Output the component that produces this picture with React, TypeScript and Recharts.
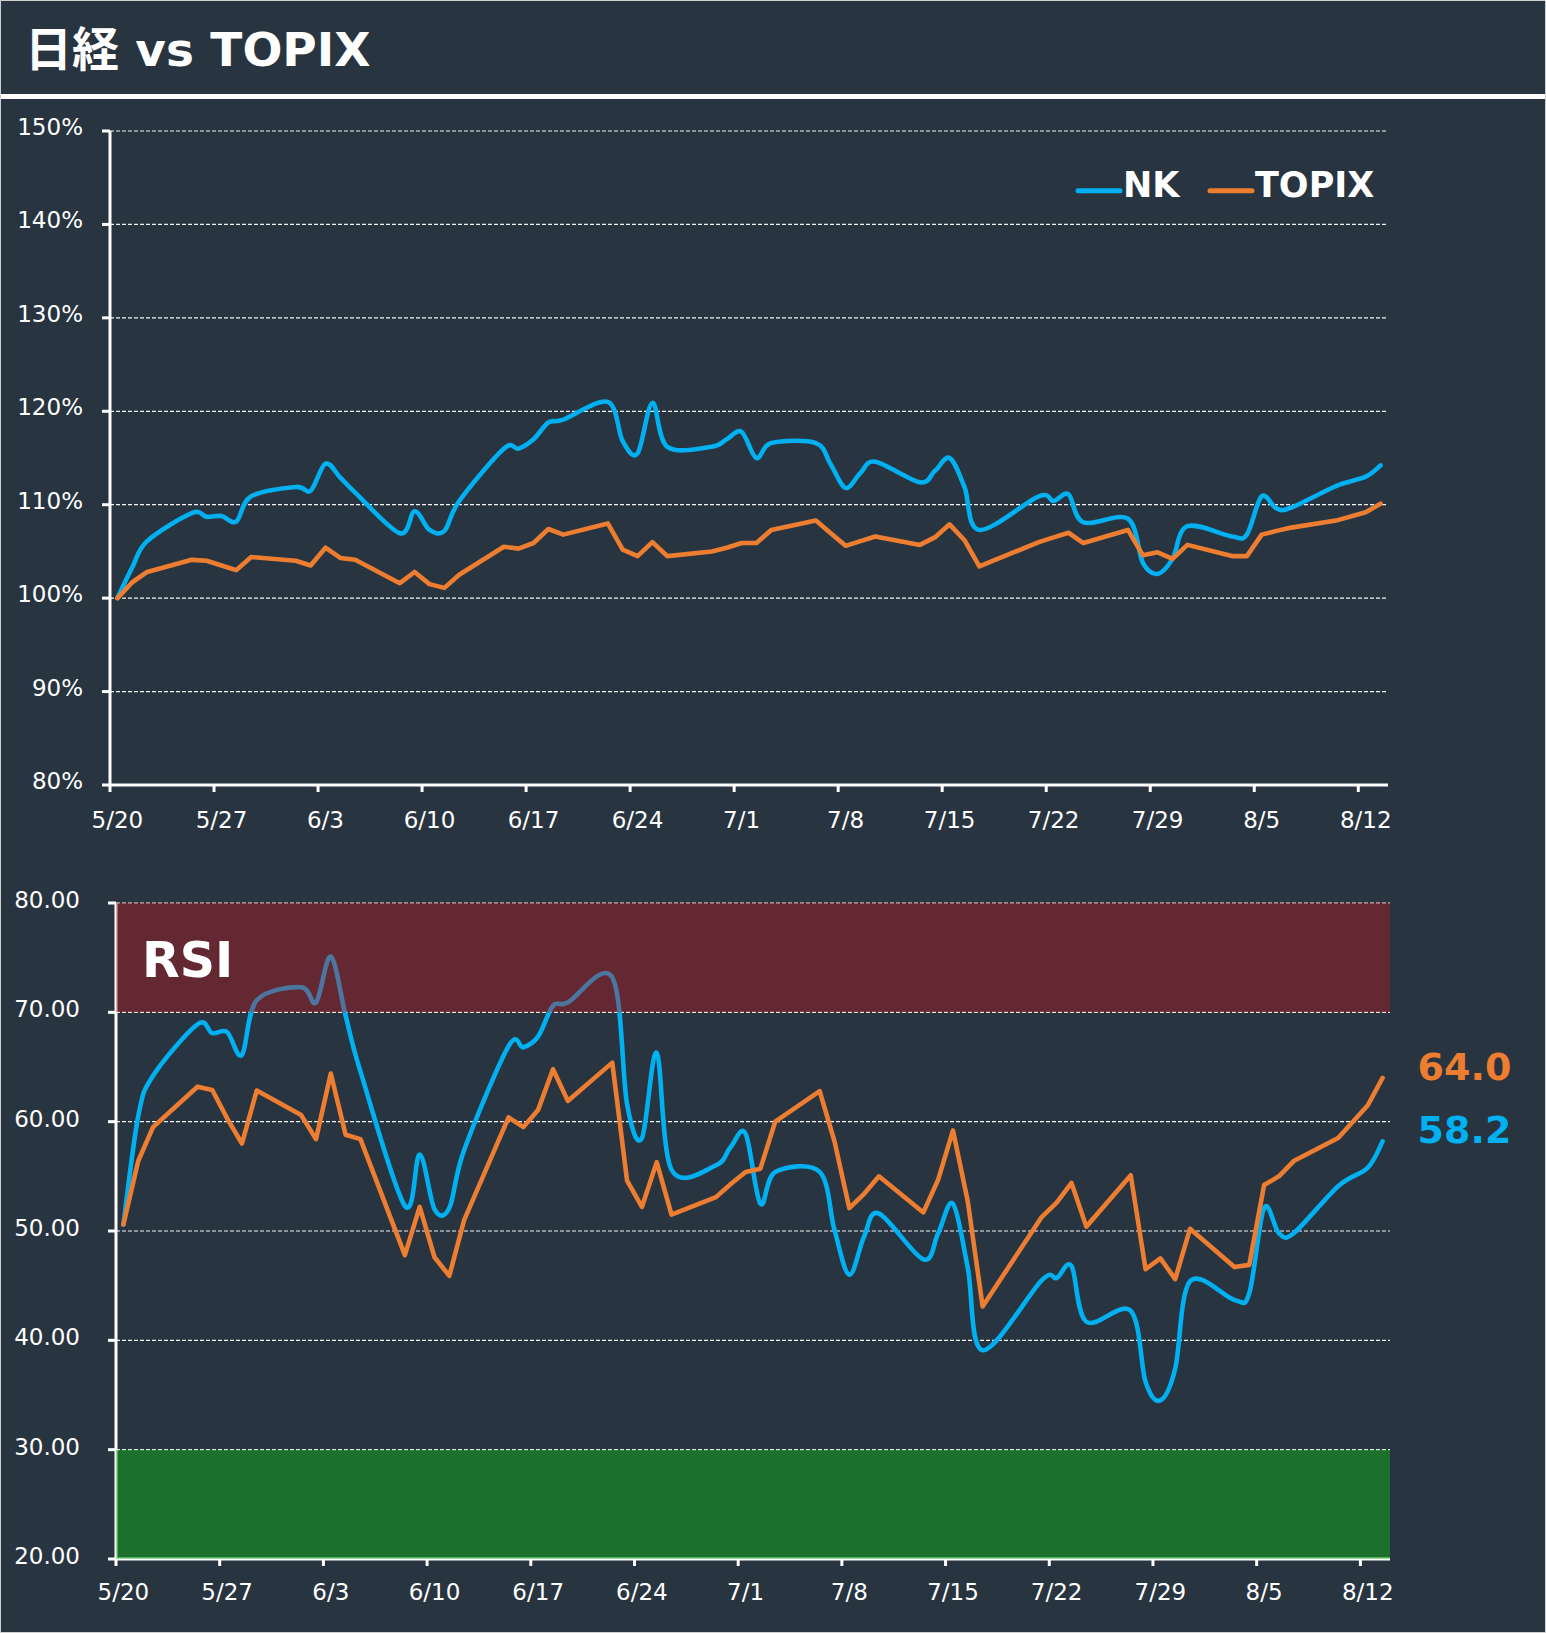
import React from "react";
import {
  LineChart,
  Line,
  XAxis,
  YAxis,
  CartesianGrid,
  ReferenceArea,
  LabelList,
} from "recharts";

// trading days (month/day)
const tradeDates = [
  "5/20", "5/21", "5/22", "5/25", "5/26", "5/27", "5/28", "5/29",
  "6/1", "6/2", "6/3", "6/4", "6/5", "6/8", "6/9", "6/10", "6/11", "6/12",
  "6/15", "6/16", "6/17", "6/18", "6/19", "6/22", "6/23", "6/24", "6/25", "6/26",
  "6/29", "6/30", "7/1", "7/2", "7/3", "7/6", "7/7", "7/8", "7/9", "7/10",
  "7/13", "7/14", "7/15", "7/16", "7/17", "7/21", "7/22", "7/23", "7/24",
  "7/27", "7/28", "7/29", "7/30", "7/31", "8/3", "8/4", "8/5", "8/6", "8/7",
  "8/10", "8/12", "8/13",
];

// performance vs 5/20 (%)
const nkPerf = [
  100.0, 103.3, 106.1, 109.1, 108.7, 108.8, 108.2, 110.9,
  111.9, 111.5, 114.4, 112.9, 111.3, 106.95, 109.3, 107.3, 107.2, 110.4,
  116.0, 116.0, 117.0, 118.8, 119.1, 121.0, 116.8, 115.5, 120.9, 116.2,
  116.2, 117.0, 117.8, 115.0, 116.6, 116.6, 114.3, 111.8, 113.4, 114.6,
  112.4, 113.6, 115.0, 111.9, 107.3, 110.9, 110.4, 111.1, 108.1,
  108.5, 103.8, 102.6, 104.2, 107.7, 106.6, 106.8, 110.9, 109.6, 109.7,
  112.0, 113.0, 114.2,
];
const topixPerf = [
  100.0, 101.7, 102.8, 104.1, 104.0, 103.5, 103.0, 104.4,
  104.0, 103.5, 105.4, 104.3, 104.1, 101.6, 102.8, 101.5, 101.1, 102.5,
  105.5, 105.3, 105.9, 107.4, 106.8, 108.0, 105.2, 104.5, 106.0, 104.5,
  105.0, 105.4, 105.9, 105.9, 107.3, 108.3, 106.95, 105.6, 106.1, 106.6,
  105.7, 106.5, 107.9, 106.2, 103.4, 106.0, 106.5, 107.0, 105.9,
  107.3, 104.6, 104.9, 104.2, 105.7, 104.5, 104.5, 106.8, 107.2, 107.55,
  108.3, 109.2, 110.1,
];

// RSI
const nkRsi = [
  50.6, 60.5, 64.2, 68.9, 68.1, 68.2, 66.1, 71.1,
  72.3, 70.9, 75.1, 69.7, 64.6, 52.3, 57.0, 52.0, 52.1, 57.4,
  66.9, 66.8, 67.8, 70.6, 70.9, 73.2, 61.6, 58.5, 66.3, 55.6,
  56.0, 57.7, 58.9, 52.5, 55.4, 55.4, 50.1, 46.0, 49.5, 51.6,
  47.4, 49.8, 52.5, 46.6, 39.1, 45.5, 45.7, 46.8, 41.7,
  42.7, 36.2, 34.5, 37.4, 45.4, 43.7, 44.3, 52.1, 49.8, 49.8,
  54.1, 55.8, 58.2,
];
const topixRsi = [
  50.6, 56.4, 59.5, 63.2, 62.9, 60.3, 58.0, 62.85,
  60.6, 58.4, 64.4, 58.8, 58.4, 47.8, 52.2, 47.6, 45.9, 51.0,
  60.4, 59.5, 61.1, 64.8, 61.9, 65.4, 54.6, 52.2, 56.3, 51.5,
  53.1, 54.3, 55.4, 55.7, 60.0, 62.8, 58.2, 52.1, 53.4, 55.0,
  51.7, 54.7, 59.2, 52.7, 43.1, 51.3, 52.6, 54.4, 50.4,
  55.1, 46.5, 47.5, 45.6, 50.2, 46.7, 46.9, 54.2, 55.0, 56.4,
  58.5, 61.5, 64.0,
];

const xTickLabels = ["5/20", "5/27", "6/3", "6/10", "6/17", "6/24", "7/1", "7/8", "7/15", "7/22", "7/29", "8/5", "8/12"];
const perfTicks = [80, 90, 100, 110, 120, 130, 140, 150];
const rsiTicks = [20, 30, 40, 50, 60, 70, 80];
const seriesNames = ["NK", "TOPIX"];

const BG = "#28343f";
const BLUE = "#00B0F0";
const ORANGE = "#ED7D31";
const FONT = "'DejaVu Sans', 'Noto Sans CJK JP', sans-serif";
const DAY_SPAN = 86; // 5/20 .. 8/13 inclusive
const LINE_W = 4.6;

// days since 5/20
const monthStart: Record<number, number> = { 5: -20, 6: 11, 7: 41, 8: 72 };
const dayOffset = (s: string) => {
  const [m, d] = s.split("/").map(Number);
  return monthStart[m] + d;
};

const xTickDays = xTickLabels.map(dayOffset);

// each trading day sits in the middle of its day slot
const data = tradeDates.map((dt, i) => ({
  x: dayOffset(dt) + 0.5,
  nk: nkPerf[i],
  topix: topixPerf[i],
  nkRsi: nkRsi[i],
  topixRsi: topixRsi[i],
}));

// Excel-like smoothed line (Catmull-Rom through the points)
const excelSmooth: any = (context: any) => {
  let pts: number[][] = [];
  return {
    areaStart() {},
    areaEnd() {},
    lineStart() {
      pts = [];
    },
    point(x: number, y: number) {
      pts.push([+x, +y]);
    },
    lineEnd() {
      if (!pts.length) return;
      context.moveTo(pts[0][0], pts[0][1]);
      for (let i = 0; i < pts.length - 1; i++) {
        const p0 = pts[i - 1] || pts[i];
        const p1 = pts[i];
        const p2 = pts[i + 1];
        const p3 = pts[i + 2] || p2;
        context.bezierCurveTo(
          p1[0] + (p2[0] - p0[0]) / 6,
          p1[1] + (p2[1] - p0[1]) / 6,
          p2[0] - (p3[0] - p1[0]) / 6,
          p2[1] - (p3[1] - p1[1]) / 6,
          p2[0],
          p2[1]
        );
      }
    },
  };
};

const axisStyle = { stroke: "#ffffff", strokeWidth: 3 };

const XTick = (p: any) => {
  const half = (p.width || 1278) / DAY_SPAN / 2;
  const label = xTickLabels[xTickDays.indexOf(p.payload.value)];
  return (
    <text x={p.x + half} y={p.y} textAnchor="middle" dominantBaseline="central" fill="#ffffff" fontSize={23} fontFamily={FONT}>
      {label}
    </text>
  );
};

const makeYTick = (fmt: (v: number) => string, shift: number) => (p: any) => (
  <text x={p.x} y={p.y + shift} textAnchor="end" dominantBaseline="central" fill="#ffffff" fontSize={23} fontFamily={FONT}>
    {fmt(p.payload.value)}
  </text>
);

// value label to the right of the last point
const endLabel = (color: string) => (props: any) => {
  const vb = props.viewBox || {};
  const px = props.x ?? vb.x;
  const py = props.y ?? vb.y;
  if (props.index !== data.length - 1 || px == null) return null;
  return (
    <text x={px + 35} y={py - 11} fill={color} fontSize={38} fontWeight="bold" fontFamily={FONT} dominantBaseline="central">
      {Number(props.value).toFixed(1)}
    </text>
  );
};

const rsiLabel = (props: any) => {
  const vb = props.viewBox || {};
  return (
    <text x={vb.x + 26} y={vb.y + 74} fill="#ffffff" fontSize={49} fontWeight="bold" fontFamily={FONT}>
      RSI
    </text>
  );
};

export default function App() {
  return (
    <div style={{ position: "relative", width: 1546, height: 1633, background: BG, overflow: "hidden", fontFamily: FONT }}>
      <style>{`body{margin:0;}`}</style>

      {/* title bar */}
      <svg width={1546} height={110} style={{ position: "absolute", left: 0, top: 0 }}>
        <text x={25} y={66} fill="#ffffff" fontSize={47} fontWeight="bold" fontFamily={FONT}>
          日経 vs TOPIX
        </text>
        <rect x={0} y={94} width={1546} height={5} fill="#ffffff" />
      </svg>

      {/* performance chart */}
      <div style={{ position: "absolute", left: 0, top: 0 }}>
        <LineChart width={1546} height={860} data={data} margin={{ top: 131, right: 158, bottom: 15, left: 10 }}>
          <CartesianGrid vertical={false} stroke="#ffffff" strokeOpacity={0.95} strokeDasharray="4 2" strokeWidth={1.2} />
          <XAxis
            dataKey="x"
            type="number"
            domain={[0, DAY_SPAN]}
            ticks={xTickDays}
            interval={0}
            height={60}
            axisLine={axisStyle}
            tickLine={axisStyle}
            tickSize={7}
            tickMargin={28}
            tick={XTick}
          />
          <YAxis
            type="number"
            domain={[80, 150]}
            ticks={perfTicks}
            interval={0}
            width={100}
            axisLine={axisStyle}
            tickLine={axisStyle}
            tickSize={8}
            tickMargin={19}
            tick={makeYTick((v) => `${v}%`, -4)}
          />
          <Line dataKey="nk" name={seriesNames[0]} type={excelSmooth} stroke={BLUE} strokeWidth={LINE_W} strokeLinecap="round" strokeLinejoin="round" dot={false} activeDot={false} isAnimationActive={false} />
          <Line dataKey="topix" name={seriesNames[1]} type="linear" stroke={ORANGE} strokeWidth={LINE_W} strokeLinecap="round" strokeLinejoin="round" dot={false} activeDot={false} isAnimationActive={false} />
        </LineChart>
      </div>

      {/* legend */}
      <svg width={340} height={60} style={{ position: "absolute", left: 1070, top: 160 }}>
        <line x1={8} y1={30.7} x2={50} y2={30.7} stroke={BLUE} strokeWidth={5} strokeLinecap="round" />
        <text x={53} y={37} fill="#ffffff" fontSize={35} fontWeight="bold" fontFamily={FONT}>
          {seriesNames[0]}
        </text>
        <line x1={140} y1={30.7} x2={182} y2={30.7} stroke={ORANGE} strokeWidth={5} strokeLinecap="round" />
        <text x={185} y={37} fill="#ffffff" fontSize={35} fontWeight="bold" fontFamily={FONT}>
          {seriesNames[1]}
        </text>
      </svg>

      {/* RSI chart */}
      <div style={{ position: "absolute", left: 0, top: 860 }}>
        <LineChart width={1546} height={773} data={data} margin={{ top: 43, right: 156, bottom: 14, left: 16 }}>
          <CartesianGrid vertical={false} stroke="#ffffff" strokeOpacity={0.95} strokeDasharray="4 2" strokeWidth={1.2} />
          <XAxis
            dataKey="x"
            type="number"
            domain={[0, DAY_SPAN]}
            ticks={xTickDays}
            interval={0}
            height={60}
            axisLine={axisStyle}
            tickLine={axisStyle}
            tickSize={7}
            tickMargin={26}
            tick={XTick}
          />
          <YAxis
            type="number"
            domain={[20, 80]}
            ticks={rsiTicks}
            interval={0}
            width={100}
            axisLine={axisStyle}
            tickLine={axisStyle}
            tickSize={8}
            tickMargin={28}
            tick={makeYTick((v) => v.toFixed(2), -3)}
          />
          <Line dataKey="nkRsi" type={excelSmooth} stroke={BLUE} strokeWidth={LINE_W} strokeLinecap="round" strokeLinejoin="round" dot={false} activeDot={false} isAnimationActive={false}>
            <LabelList dataKey="nkRsi" content={endLabel(BLUE)} />
          </Line>
          <Line dataKey="topixRsi" type="linear" stroke={ORANGE} strokeWidth={LINE_W} strokeLinecap="round" strokeLinejoin="round" dot={false} activeDot={false} isAnimationActive={false}>
            <LabelList dataKey="topixRsi" content={endLabel(ORANGE)} />
          </Line>
          <ReferenceArea y1={70} y2={80} fill="rgb(200,20,30)" fillOpacity={0.38} stroke="none" zIndex={1500} label={rsiLabel} />
          <ReferenceArea y1={20} y2={30} fill="rgb(15,190,20)" fillOpacity={0.44} stroke="none" zIndex={1500} />
        </LineChart>
      </div>

      {/* thin outer frame */}
      <div style={{ position: "absolute", inset: 0, border: "1px solid #cfcfcf", pointerEvents: "none" }} />
    </div>
  );
}
